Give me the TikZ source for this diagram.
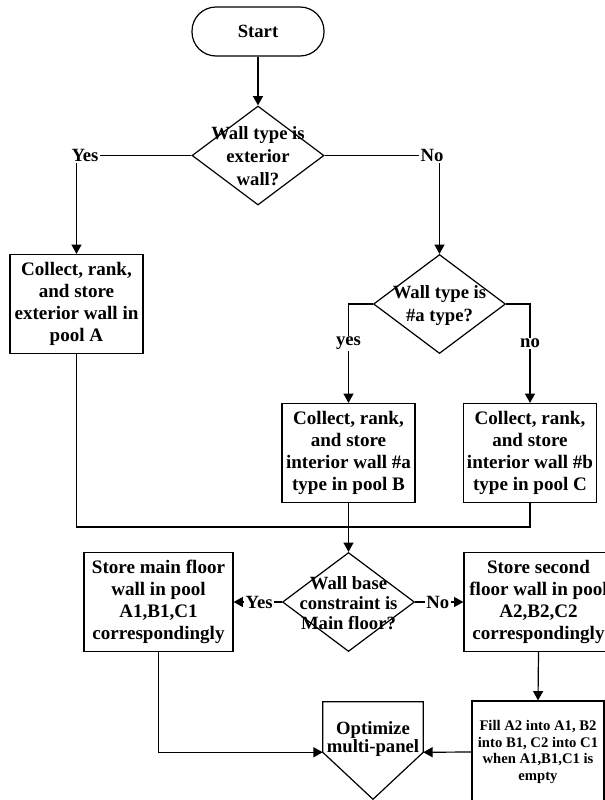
\documentclass[tikz,border=0pt]{standalone}
\usepackage{fontspec}
\setmainfont{Liberation Serif}
\usetikzlibrary{shapes.geometric,arrows.meta}
% one drawing unit = one pixel of a 605 x 800 canvas, y axis pointing down
\def\u{0.75pt}
\tikzset{
  base/.style={line width=0.9pt},
  term/.style={base, draw, rectangle, rounded corners=18pt, inner sep=0,
    minimum width=132*\u, minimum height=49*\u,
    font=\fontsize{14}{17}\selectfont\bfseries},
  box/.style={base, draw, rectangle, align=center, inner sep=0,
    minimum width=133*\u, minimum height=99*\u,
    font=\fontsize{14.3}{16.5}\selectfont\bfseries},
  smallbox/.style={box, font=\fontsize{11}{12.4}\selectfont\bfseries},
  dia/.style={base, draw, diamond, inner sep=0,
    minimum width=132*\u, minimum height=99*\u},
  txt/.style={align=center, inner sep=0,
    font=\fontsize{14}{17}\selectfont\bfseries},
  lbl/.style={fill=white, inner sep=1pt,
    font=\fontsize{14}{17}\selectfont\bfseries},
  arr/.style={base, -{Triangle[length=7pt,width=7.5pt]}},
  ln/.style={base}
}
\begin{document}
\begin{tikzpicture}[x=0.75pt,y=-0.75pt]
\useasboundingbox (0,0) rectangle (605,800);
\clip (0,0) rectangle (605,800);

% start and first decision
\node[term] (st) at (258,31.5) {Start};
\node[dia] (d1) at (258,155.5) {};
\node[txt] (d1t) at (258,156) {Wall type is\\exterior\\wall?};
\node[lbl] (y1) at (85,155.5) {Yes};
\node[lbl] (n1) at (432,155.5) {No};

% pools A, B, C
\node[box] (bA) at (76.5,304) {Collect, rank,\\and store\\exterior wall in\\pool A};
\node[dia] (d2) at (439.5,304) {};
\node[txt] (d2t) at (439.5,305.5) {Wall type is\\\#a type?};
\node[box] (bB) at (348.5,453) {Collect, rank,\\and store\\interior wall \#a\\type in pool B};
\node[box] (bC) at (530,453) {Collect, rank,\\and store\\interior wall \#b\\type in pool C};
\coordinate (j) at (348.5,527);

% floor decision
\node[dia] (d3) at (348.5,602) {};
\node[txt, font=\fontsize{14}{15}\selectfont\bfseries] (d3t) at (348.5,603) {Wall base\\constraint is\\Main floor?};
\node[box, minimum width=149*\u] (bD) at (158.5,602) {Store main floor\\wall in pool\\A1,B1,C1\\correspondingly};
\node[box, minimum width=149*\u] (bE) at (538.5,602) {Store second\\floor wall in pool\\A2,B2,C2\\correspondingly};
\node[smallbox, minimum width=132*\u, minimum height=102*\u] (bF) at (538,752) {Fill A2 into A1, B2\\into B1, C2 into C1\\when A1,B1,C1 is\\empty};

% off-page connector
\node[inner sep=0, minimum width=100*\u, minimum height=50*\u] (opt) at (373,727) {};
\draw[ln] (opt.south west) -- (opt.north west) -- (opt.north east) -- (opt.south east)
  -- ([yshift=-47*\u]opt.south) -- cycle;
\node[txt, font=\fontsize{14}{13.5}\selectfont\bfseries] (optt) at (373,739) {Optimize\\multi-panel};

% connectors
\draw[arr] (st) -- (d1);
\draw[ln] (d1.west) -- (y1.east);
\draw[arr] (y1.south -| bA.north) -- (bA.north);
\draw[ln] (d1.east) -- (n1.west);
\draw[arr] (n1.south -| d2.north) -- (d2.north);
\draw[arr] (d2.west) -| node[lbl, pos=0.7] (y2) {yes} (bB.north);
\draw[arr] (d2.east) -| node[lbl, pos=0.7] (n2) {no} (bC.north);
\draw[ln] (bA.south) |- (j) -| (bC.south);
\draw[arr] (bB.south) -- (d3.north);
\draw[arr] (d3.west) -- node[lbl, pos=0.47] (y3) {Yes} (bD.east);
\draw[arr] (d3.east) -- node[lbl, pos=0.47] (n3) {No} (bE.west);
\draw[arr] (bE.south) -- (bF.north);
\draw[arr] (bD.south) |- (opt.south west);
\draw[arr] (bF.west) -- (opt.south east);
\end{tikzpicture}
\end{document}
